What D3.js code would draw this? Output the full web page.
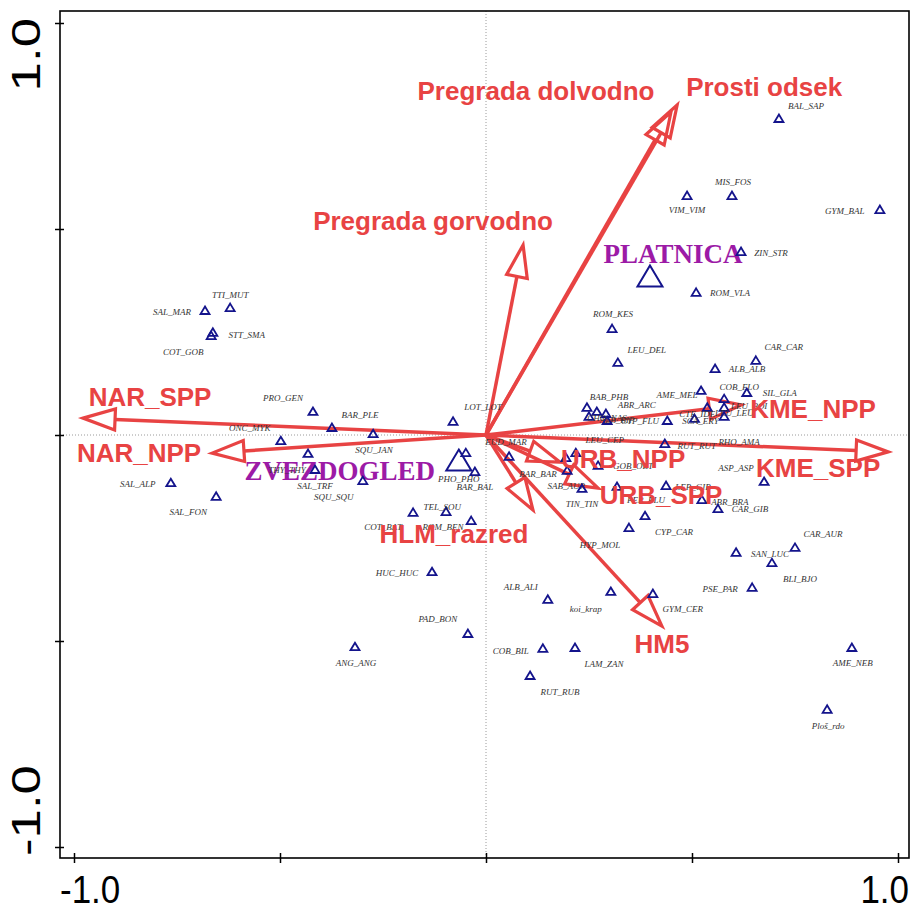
<!DOCTYPE html>
<html><head><meta charset="utf-8">
<script src="https://cdn.jsdelivr.net/npm/d3@7"></script>
<style>body{margin:0;background:#fff}</style>
</head><body><svg id="chart" width="912" height="911"></svg>
<script>
// Species scores (axis 1, axis 2)
const speciesNames = ["SAL_MAR","TTI_MUT","STT_SMA","COT_GOB","PRO_GEN","BAR_PLE","ONC_MYK","SQU_JAN","LOT_LOT","THY_THY",
  "SAL_TRF","SQU_SQU","SAL_ALP","SAL_FON","COT_BAT","ROM_BEN","TEL_SOU","HUC_HUC","PAD_BON","ANG_ANG",
  "PHO_PHO","BAR_BAL","EUD_MAR","BAR_BAR","SAB_AUR","LEU_CEP","TIN_TIN","GOB_OBT","PER_FLU","CYP_CAR",
  "HYP_MOL","LEP_GIB","ABR_BRA","CAR_GIB","ASP_ASP","CAR_AUR","SAN_LUC","BLI_BJO","PSE_PAR","AME_NEB",
  "Ploš_rdo","ALB_ALI","koi_krap","GYM_CER","COB_BIL","LAM_ZAN","RUT_RUB","BAL_SAP","MIS_FOS","VIM_VIM",
  "GYM_BAL","ZIN_STR","ROM_VLA","ROM_KES","LEU_DEL","CAR_CAR","ALB_ALB","AME_MEL","COB_ELO","SIL_GLA",
  "LEU_BOI","LEU_LEU","RHO_AMA","SCA_ERY","CTE_IDE","RUT_RUT","BAB_PHB","ABR_ARC","ALB_BIP","CYP_FLU","CHO_NAS"];
const speciesX = [-0.682,-0.621,-0.663,-0.667,-0.420,-0.374,-0.498,-0.274,-0.080,-0.432,
  -0.415,-0.299,-0.765,-0.655,-0.177,-0.097,-0.036,-0.131,-0.044,-0.318,
  -0.049,-0.027,0.056,0.194,0.197,0.218,0.233,0.272,0.318,0.386,
  0.347,0.437,0.524,0.563,0.675,0.750,0.607,0.694,0.646,0.888,
  0.828,0.150,0.303,0.405,0.138,0.216,0.107,0.711,0.597,0.488,
  0.956,0.619,0.510,0.306,0.320,0.655,0.556,0.522,0.578,0.633,
  0.578,0.537,0.578,0.506,0.440,0.434,0.245,0.269,0.250,0.291,0.294];
const speciesY = [0.301,0.308,0.248,0.240,0.056,0.017,-0.015,0.002,0.032,-0.046,
  -0.085,-0.112,-0.117,-0.150,-0.189,-0.187,-0.209,-0.333,-0.483,-0.515,
  -0.044,-0.090,-0.053,-0.056,-0.087,-0.044,-0.131,-0.075,-0.126,-0.197,
  -0.226,-0.124,-0.158,-0.180,-0.114,-0.274,-0.286,-0.311,-0.371,-0.517,
  -0.667,-0.400,-0.381,-0.386,-0.519,-0.517,-0.585,0.767,0.580,0.580,
  0.546,0.444,0.345,0.257,0.175,0.180,0.160,0.107,0.087,0.102,
  0.066,0.066,0.044,0.039,0.034,-0.022,0.066,0.056,0.044,0.051,0.034];
// label placement relative to each species symbol (px)
const labelShift = [[-33,4],[0,-10],[34,5],[-28,19],[-30,-11],[28,-10],[-31,-10],[1,19],[30,-12],[-21,19],
  [0,19],[-29,19],[-33,4],[-28,18],[-30,17],[-3,18],[-29,-11],[-35,4],[-30,-12],[1,19],
  [-7,29],[0,18],[-3,-12],[-28,19],[-1,18],[29,-10],[0,18],[35,3],[29,16],[29,19],
  [-29,20],[27,4],[28,5],[32,3],[-28,-11],[28,-11],[34,4],[28,19],[-32,4],[1,18],
  [1,19],[-27,-10],[-25,20],[30,18],[-32,5],[29,19],[30,19],[27,-10],[1,-11],[0,17],
  [-35,4],[30,4],[34,3],[1,-12],[29,-10],[28,-11],[32,3],[-24,7],[15,-9],[33,3],
  [25,1],[27,8],[15,28],[6,5],[30,-4],[32,5],[22,-8],[40,-4],[28,6],[34,10],[0,0]];

// Environmental variables (arrow tips)
const envNames = ["Prosti odsek","Pregrada dolvodno","Pregrada gorvodno","NAR_SPP","NAR_NPP","KME_NPP","KME_SPP","URB_NPP","URB_SPP","HLM_razred","HM5"];
const envX = [0.464,0.449,0.090,-0.978,-0.665,0.619,0.976,0.180,0.272,0.114,0.427];
const envY = [0.801,0.784,0.461,0.041,-0.044,0.073,-0.041,-0.066,-0.129,-0.182,-0.464];
const envLabelShift = [[87,-9],[-135,-12],[-90,-15],[67,-12],[-73,9],[72,13],[-70,25],[63,6],[63,16],[-79,33],[0,27]];

// Sites
const siteNames = ["PLATNICA","ZVEZDOGLED"];
const siteX = [0.398,-0.066];
const siteY = [0.381,-0.066];
const siteLabelShift = [[23,-15],[-119,18]];

const tickValues = [-1,-0.5,0,0.5,1];
const tickLabels = ["-1.0","","","","1.0"];

const svg = d3.select("#chart");
const x = d3.scaleLinear().domain([-1,1]).range([74,898]);
const y = d3.scaleLinear().domain([-1,1]).range([847,23]);
const red = "#e84343", navy = "#14148c", purple = "#9c1aa6";
const box = {l:60,t:11,r:909,b:858};

// zero lines
svg.append("line").attr("x1",x(0)).attr("x2",x(0)).attr("y1",box.t).attr("y2",box.b)
  .attr("stroke","#9a9a9a").attr("stroke-width",1).attr("stroke-dasharray","1,2");
svg.append("line").attr("x1",box.l).attr("x2",box.r).attr("y1",y(0)).attr("y2",y(0))
  .attr("stroke","#9a9a9a").attr("stroke-width",1).attr("stroke-dasharray","1,2");

// frame
svg.append("rect").attr("x",box.l).attr("y",box.t).attr("width",box.r-box.l).attr("height",box.b-box.t)
  .attr("fill","none").attr("stroke","#000").attr("stroke-width",1.6);

// axes (ticks only)
const gx = svg.append("g").attr("transform",`translate(0,${box.b+5})`)
  .call(d3.axisBottom(x).tickValues(tickValues).tickSize(-10).tickFormat(""));
const gy = svg.append("g").attr("transform",`translate(${box.l+4},0)`)
  .call(d3.axisLeft(y).tickValues(tickValues).tickSize(9).tickFormat(""));
[gx,gy].forEach(g=>{g.select(".domain").remove();g.selectAll(".tick line").attr("stroke","#000").attr("stroke-width",1.5);});

// tick labels
tickValues.forEach((v,i)=>{
  if(!tickLabels[i]) return;
  const first = v < 0;
  svg.append("text").text(tickLabels[i])
    .attr("transform",`translate(${first?box.l:box.r},903) scale(0.92,1.04)`)
    .attr("text-anchor",first?"start":"end")
    .attr("font-family","Liberation Sans, Arial, sans-serif").attr("font-size",38).attr("fill","#000");
  svg.append("text").text(tickLabels[i])
    .attr("transform",`translate(40,${first?856:18}) rotate(-90) scale(1.32,1)`)
    .attr("text-anchor",first?"start":"end")
    .attr("font-family","Liberation Sans, Arial, sans-serif").attr("font-size",40).attr("fill","#000");
});

// environmental arrows
const headLen = 32, headHalf = 10.5;
const arrows = svg.append("g");
envNames.forEach((n,i)=>{
  const x0=x(0), y0=y(0), x1=x(envX[i]), y1=y(envY[i]);
  const dx=x1-x0, dy=y1-y0, L=Math.hypot(dx,dy), ux=dx/L, uy=dy/L;
  const bx=x1-ux*headLen, by=y1-uy*headLen;
  arrows.append("line").attr("x1",x0).attr("y1",y0).attr("x2",bx).attr("y2",by)
    .attr("stroke",red).attr("stroke-width",3.5);
  arrows.append("path")
    .attr("d",`M${x1},${y1}L${bx-uy*headHalf},${by+ux*headHalf}L${bx+uy*headHalf},${by-ux*headHalf}Z`)
    .attr("fill","none").attr("stroke",red).attr("stroke-width",3.2).attr("stroke-linejoin","miter");
});

// site labels and symbols
siteNames.forEach((n,i)=>{
  svg.append("text").text(n).attr("x",x(siteX[i])+siteLabelShift[i][0]).attr("y",y(siteY[i])+siteLabelShift[i][1])
    .attr("text-anchor","middle").attr("font-family","Liberation Serif, 'Times New Roman', serif")
    .attr("font-weight","bold").attr("font-size",27).attr("fill",purple);
});
const tri = (cx,cy,w,h)=>`M${cx},${cy-h*0.6}L${cx+w/2},${cy+h*0.4}L${cx-w/2},${cy+h*0.4}Z`;
siteNames.forEach((n,i)=>{
  svg.append("path").attr("d",tri(x(siteX[i]),y(siteY[i]),25,21))
    .attr("fill","none").attr("stroke",navy).attr("stroke-width",2);
});

// species
const sp = svg.append("g");
speciesNames.forEach((n,i)=>{
  const cx=x(speciesX[i]), cy=y(speciesY[i]);
  sp.append("path").attr("d",tri(cx,cy,9,7.5)).attr("fill","none").attr("stroke",navy).attr("stroke-width",1.8);
  sp.append("text").text(n).attr("x",cx+labelShift[i][0]).attr("y",cy+labelShift[i][1])
    .attr("text-anchor","middle").attr("font-family","Liberation Serif, 'Times New Roman', serif")
    .attr("font-style","italic").attr("font-size",9).attr("fill","#333");
});

// arrow labels
envNames.forEach((n,i)=>{
  svg.append("text").text(n).attr("x",x(envX[i])+envLabelShift[i][0]).attr("y",y(envY[i])+envLabelShift[i][1])
    .attr("text-anchor","middle").attr("font-family","Liberation Sans, Arial, sans-serif")
    .attr("font-weight","bold").attr("font-size",26).attr("fill",red);
});
</script></body></html>
